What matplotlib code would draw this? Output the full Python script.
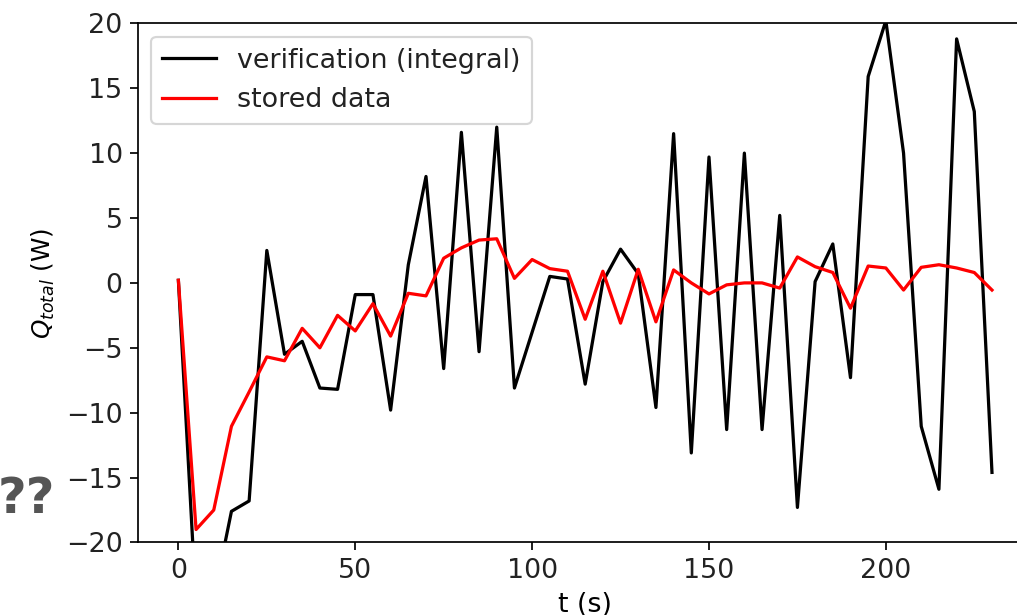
import numpy as np
import matplotlib
matplotlib.use("Agg")
import matplotlib.pyplot as plt

# time axis (s)
t = np.arange(0, 235, 5)

# verification (integral) - black
q_verif = [0.2, -24.7, -24.3, -17.6, -16.8, 2.5, -5.5, -4.5, -8.1, -8.2,
           -0.9, -0.9, -9.8, 1.4, 8.2, -6.6, 11.6, -5.3, 12.0, -8.1,
           -3.8, 0.5, 0.3, -7.8, 0.1, 2.6, 0.7, -9.6, 11.5, -13.1,
           9.7, -11.3, 10.0, -11.3, 5.2, -17.3, 0.1, 3.0, -7.3, 15.9,
           20.2, 10.0, -11.05, -15.9, 18.8, 13.2, -14.6]

# stored data - red
q_stored = [0.2, -19.0, -17.5, -11.05, -8.4, -5.7, -6.0, -3.5, -5.0, -2.5,
            -3.7, -1.6, -4.1, -0.8, -1.0, 1.9, 2.7, 3.3, 3.4, 0.35,
            1.8, 1.1, 0.9, -2.8, 0.9, -3.1, 1.05, -3.0, 1.0, 0.0,
            -0.85, -0.15, 0.0, 0.0, -0.4, 2.0, 1.25, 0.8, -1.95, 1.3,
            1.15, -0.55, 1.2, 1.4, 1.15, 0.8, -0.55]

plt.rcParams["font.size"] = 12.5
plt.rcParams["text.color"] = "#222222"
plt.rcParams["xtick.labelcolor"] = "#222222"
plt.rcParams["ytick.labelcolor"] = "#222222"

dpi = 155
fig = plt.figure(figsize=(1017 / dpi, 615 / dpi), dpi=dpi)
# the reference is a cropped screenshot: axes run past the right edge
ax = fig.add_axes([0.1354, 0.1179, 0.880, 0.8442])

ax.plot(t, q_verif, color="black", label="verification (integral)")
ax.plot(t, q_stored, color="red", label="stored data")

ax.set_xlim(-11.5, 241.5)
ax.set_ylim(-20, 20)
ax.set_xlabel("t (s)")
ax.set_ylabel("$Q_{total}$ (W)", fontsize=11.5)
ax.legend(loc="upper left")

fig.text(-0.002, 0.189, "??", fontsize=23, fontweight="bold",
         color="#555555", ha="left", va="center")

fig.savefig("out.png", dpi=dpi)
